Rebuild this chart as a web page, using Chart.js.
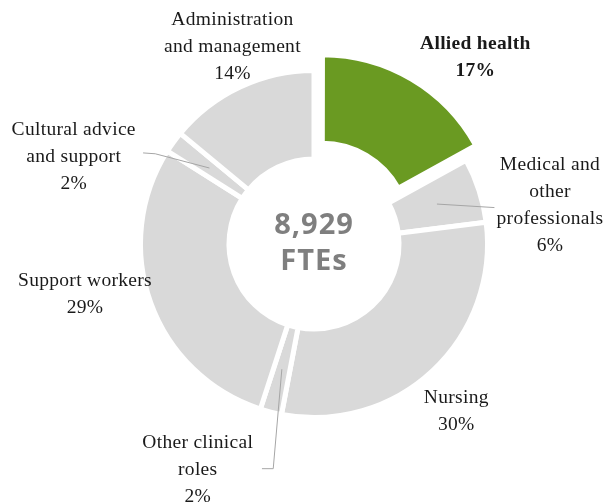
<!DOCTYPE html>
<html>
<head>
<meta charset="utf-8">
<script src="https://cdn.jsdelivr.net/npm/chart.js@4/dist/chart.umd.min.js"></script>
<style>
  html, body { margin: 0; padding: 0; background: #ffffff; }
  #wrap { width: 608px; height: 504px; position: relative; }
</style>
</head>
<body>
<div id="wrap"><canvas id="c" width="608" height="504"></canvas></div>
<script>
// ---- data ----
const categories = ['Allied health', 'Medical and other professionals', 'Nursing', 'Other clinical roles', 'Support workers', 'Cultural advice and support', 'Administration and management'];
const values = [17, 6, 30, 2, 29, 2, 14];
const labelLines = [['Allied health'], ['Medical and', 'other', 'professionals'], ['Nursing'], ['Other clinical', 'roles'], ['Support workers'], ['Cultural advice', 'and support'], ['Administration', 'and management']];
const highlighted = [true, false, false, false, false, false, false];
const centerLines = ['8,929', 'FTEs'];

// ---- styling / placement (not data) ----
const GREEN = '#6a9a22';
const GREY = '#d9d9d9';
// label block centres, in units of outer radius relative to chart centre
const labelPlace = [
  { rx: 0.93, ry: -1.075 },
  { rx: 1.36, ry: -0.22 },
  { rx: 0.82, ry: 0.962 },
  { rx: -0.67, ry: 1.303 },
  { rx: -1.32, ry: 0.29 },
  { rx: -1.385, ry: -0.505 },
  { rx: -0.47, ry: -1.138 }
];
// leader lines: extra points after the ring midpoint (units of outer radius)
const leaders = [
  null,
  [{ rx: 1.04, ry: -0.21 }],
  null,
  [{ rx: -0.235, ry: 1.295 }, { rx: -0.30, ry: 1.295 }],
  null,
  [{ rx: -0.915, ry: -0.52 }, { rx: -0.985, ry: -0.525 }],
  null
];

const labelPlugin = {
  id: 'labels',
  afterDraw(chart) {
    const ctx = chart.ctx;
    const meta = chart.getDatasetMeta(0);
    const ref = meta.data[1];
    const cx = ref.x, cy = ref.y;
    const R = ref.outerRadius;
    const rMid = (ref.outerRadius + ref.innerRadius) / 2;
    const total = values.reduce((a, b) => a + b, 0);
    ctx.save();
    // leader lines
    ctx.strokeStyle = '#a6a6a6';
    ctx.lineWidth = 1;
    meta.data.forEach((arc, i) => {
      if (!leaders[i]) return;
      const mid = (arc.startAngle + arc.endAngle) / 2;
      ctx.beginPath();
      ctx.moveTo(cx + Math.cos(mid) * rMid, cy + Math.sin(mid) * rMid);
      leaders[i].forEach(p => ctx.lineTo(cx + p.rx * R, cy + p.ry * R));
      ctx.stroke();
    });
    // labels
    ctx.textAlign = 'center';
    ctx.textBaseline = 'middle';
    ctx.fillStyle = '#1a1a1a';
    try { ctx.letterSpacing = '0.3px'; } catch (e) {}
    const lh = 27;
    labelLines.forEach((lines, i) => {
      const all = lines.concat([Math.round(values[i] / total * 100) + '%']);
      ctx.font = (highlighted[i] ? 'bold ' : '') + '19.5px "Liberation Serif", serif';
      const bx = cx + labelPlace[i].rx * R;
      const by = cy + labelPlace[i].ry * R - (all.length - 1) * lh / 2;
      all.forEach((t, k) => ctx.fillText(t, bx, by + k * lh));
    });
    // centre text
    ctx.fillStyle = '#7f7f7f';
    ctx.font = 'bold 29px "Open Sans", sans-serif';
    try { ctx.letterSpacing = '1px'; } catch (e) {}
    ctx.fillText(centerLines[0], cx, cy - 18);
    ctx.fillText(centerLines[1], cx, cy + 18);
    ctx.restore();
  }
};

new Chart(document.getElementById('c'), {
  type: 'doughnut',
  data: {
    labels: categories,
    datasets: [{
      data: values,
      backgroundColor: highlighted.map(h => h ? GREEN : GREY),
      borderColor: '#ffffff',
      borderWidth: 5,
      offset: highlighted.map(h => h ? 64 : 0),
      hoverOffset: 0
    }]
  },
  options: {
    responsive: false,
    animation: false,
    events: [],
    cutout: '49%',
    layout: { padding: { left: 106, right: 86, top: 36, bottom: 52 } },
    plugins: { legend: { display: false }, tooltip: { enabled: false } }
  },
  plugins: [labelPlugin]
});
</script>
</body>
</html>
